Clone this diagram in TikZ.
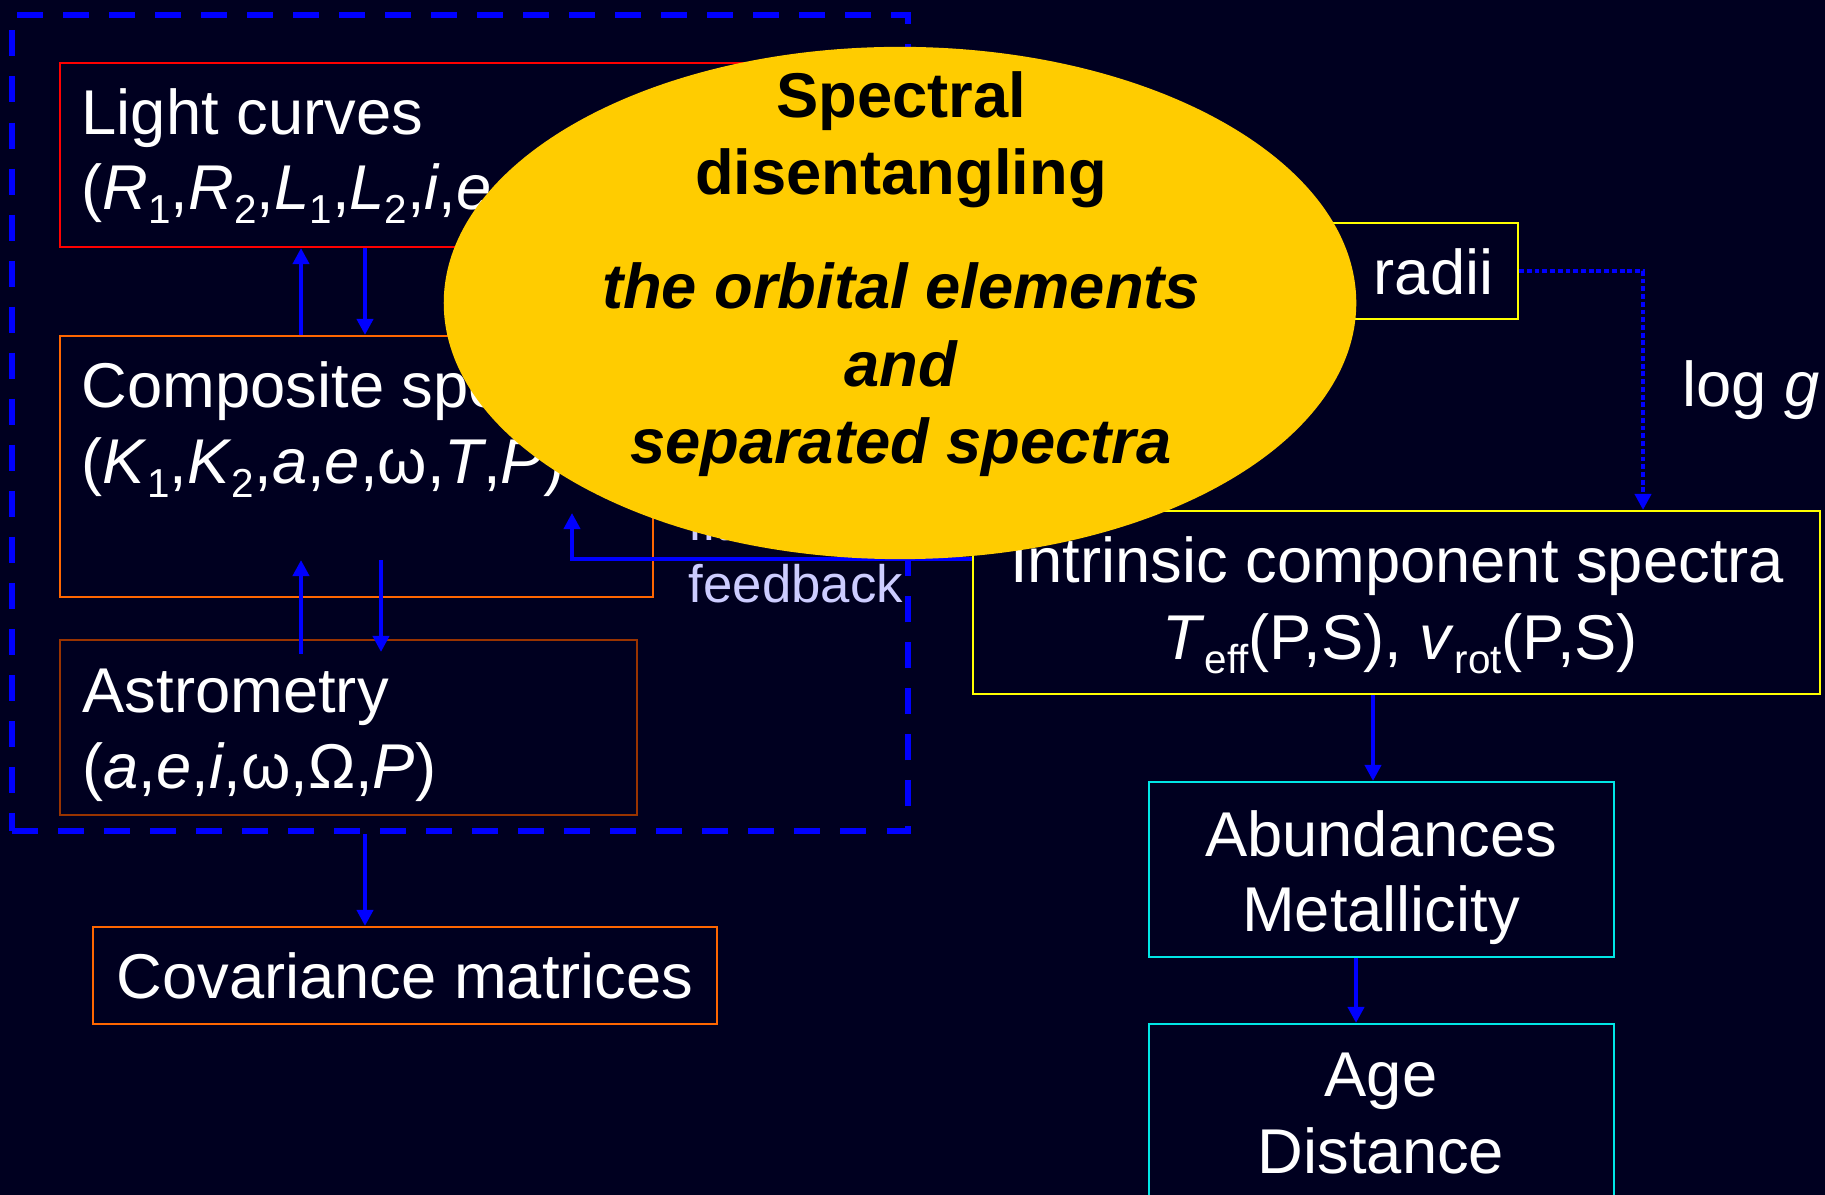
\documentclass[tikz,border=0pt]{standalone}
\usepackage{fontspec}
\setmainfont{Liberation Sans}
\usetikzlibrary{arrows.meta,shapes.geometric,fit,positioning}

\definecolor{slidebg}{RGB}{0,0,32}
\definecolor{flowblue}{RGB}{0,0,255}
\definecolor{sdgold}{RGB}{255,204,0}
\definecolor{lcred}{RGB}{255,0,0}
\definecolor{cporange}{RGB}{255,102,0}
\definecolor{asbrown}{RGB}{153,51,0}
\definecolor{spyellow}{RGB}{255,255,0}
\definecolor{abcyan}{RGB}{0,230,230}
\definecolor{fblilac}{RGB}{204,204,255}

\newcommand{\sbs}[1]{\raisebox{-0.22em}{\fontsize{11.5}{12}\selectfont #1}}

\tikzset{
  box/.style={draw=#1, line width=0.6pt, inner sep=0pt},
  lbl/.style={text=white, inner sep=0pt, font=\fontsize{18}{22}\selectfont},
  fbl/.style={text=fblilac, inner sep=0pt, font=\fontsize{15}{18}\selectfont},
  sdtitle/.style={text=black, inner sep=0pt, font=\fontsize{18}{22}\selectfont\bfseries},
  sdbody/.style={text=black, inner sep=0pt, font=\fontsize{18}{22}\selectfont\bfseries\itshape},
  flow/.style={draw=flowblue, line width=1.1pt, -{Triangle[length=0.16cm,width=0.16cm]}},
}

\begin{document}
\begin{tikzpicture}[x=0.01cm, y=-0.01cm]
  \clip (0,0) rectangle (1825,1195);
  \fill[slidebg] (0,0) rectangle (1825,1195);

  % orbit group
  \node[draw=flowblue, line width=1.7pt, dash pattern=on 0.26cm off 0.2cm,
        inner sep=0pt, fit={(12,15)(908,831)}] (orbit) {};

  % boxes
  \node[box=lcred, fit={(60,63)(800,247)}] (light) {};
  \node[box=cporange, fit={(60,336)(653,597)}] (comp) {};
  \node[box=asbrown, fit={(60,640)(637,815)}] (astro) {};
  \node[box=cporange, fit={(93,927)(717,1024)}] (covar) {};
  \node[box=spyellow, fit={(1290,223)(1518,319)}] (radii) {};
  \node[box=spyellow, fit={(973,511)(1820,694)}] (intr) {};
  \node[box=abcyan, fit={(1149,782)(1614,957)}] (abund) {};
  \node[box=abcyan, fit={(1149,1024)(1614,1260)}] (age) {};

  % labels
  \node[lbl, anchor=base west] (lighta) at (81,135) {Light curves};
  \node[lbl, anchor=base west] (lightb) at (81,210)
    {(\textit{R}\sbs{1},\textit{R}\sbs{2},\textit{L}\sbs{1},\textit{L}\sbs{2},\textit{i},\textit{e}};
  \node[lbl, anchor=base west] (compa) at (81,408) {Composite spectra};
  \node[lbl, anchor=base west] (compb) at (81,484)
    {(\textit{K}\sbs{1},\textit{K}\sbs{2},\textit{a},\textit{e},ω,\textit{T},\textit{P})};
  \node[lbl, anchor=base west] (astroa) at (82,712) {Astrometry};
  \node[lbl, anchor=base west] (astrob) at (82,788)
    {(\textit{a},\textit{e},\textit{i},ω,Ω,\textit{P})};
  \node[lbl, anchor=base] (covara) at (405,998) {Covariance matrices};
  \node[fbl, anchor=base west] (fita) at (688,541) {fit};
  \node[fbl, anchor=base west] (fbk) at (688,603) {feedback};
  \node[lbl, anchor=base west] (radiia) at (1373,295) {radii};
  \node[lbl, anchor=base west] (logg) at (1682,407) {log \textit{g}};
  \node[lbl, anchor=base] (intra) at (1397,583) {Intrinsic component spectra};
  \node[lbl, anchor=base] (intrb) at (1400,660)
    {\textit{T}\sbs{eff}(P,S), \textit{v}\sbs{rot}(P,S)};
  \node[lbl, anchor=base] (abunda) at (1381,856) {Abundances};
  \node[lbl, anchor=base] (abundb) at (1381,931) {Metallicity};
  \node[lbl, anchor=base] (agea) at (1381,1096) {Age};
  \node[lbl, anchor=base] (ageb) at (1381,1173) {Distance};

  % connectors
  \coordinate (lcup) at (301,0);
  \coordinate (lcdn) at (365,0);
  \coordinate (asdn) at (381,0);
  \coordinate (fbrow) at (0,559);
  \coordinate (fbtip) at (572,513);
  \coordinate (lgx) at (1643,0);
  \coordinate (inx) at (1373,0);
  \coordinate (abx) at (1356,0);

  \draw[flow] (comp.north -| lcup) -- (light.south -| lcup);
  \draw[flow] (light.south -| lcdn) -- (comp.north -| lcdn);
  \draw[flow] ([yshift=-0.15cm]astro.north -| lcup) -- ([yshift=0.38cm]comp.south -| lcup);
  \draw[flow] ([yshift=0.38cm]comp.south -| asdn) -- ([yshift=-0.13cm]astro.north -| asdn);
  \draw[flow] (orbit.south -| lcdn) -- (covar.north -| lcdn);
  \draw[flow] (intr.west |- fbrow) -| (fbtip);
  \draw[flow, dash pattern=on 1.4pt off 0.8pt]
    (radii.east) -| (intr.north -| lgx);
  \draw[flow] (intr.south -| inx) -- (abund.north -| inx);
  \draw[flow] (abund.south -| abx) -- (age.north -| abx);

  % disentangling
  \node[ellipse, fill=sdgold, inner sep=0pt, minimum width=9.12cm,
        minimum height=5.12cm] (sd) at (900,303) {};
  \node[sdtitle, anchor=base] (sda) at (901,118) {Spectral};
  \node[sdtitle, anchor=base] (sdb) at (901,195) {disentangling};
  \node[sdbody, anchor=base] (sdc) at (901,309) {the orbital elements};
  \node[sdbody, anchor=base] (sdd) at (901,387) {and};
  \node[sdbody, anchor=base] (sde) at (901,464) {separated spectra};
\end{tikzpicture}
\end{document}
